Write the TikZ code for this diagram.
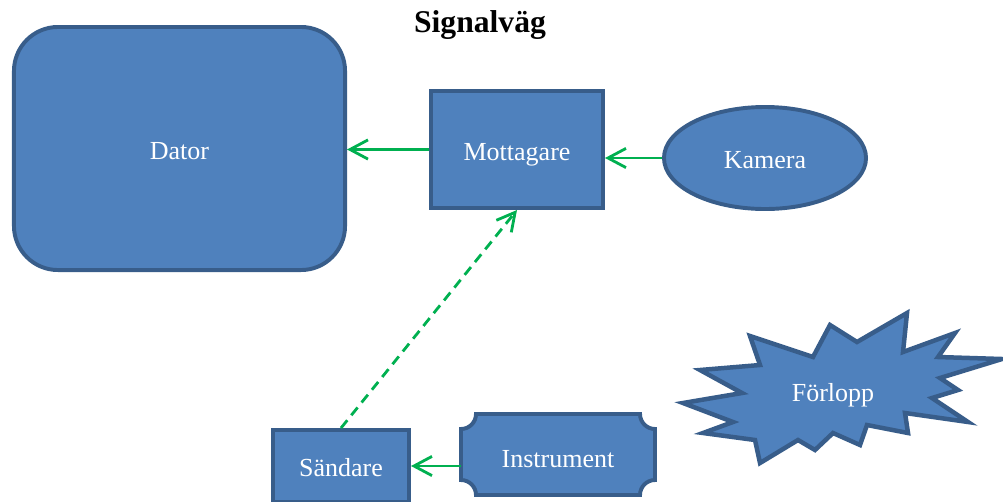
\documentclass[tikz,border=0pt]{standalone}
\usepackage{fontspec}
\setmainfont{Liberation Serif}
\usetikzlibrary{arrows.meta,shapes.geometric}
\definecolor{boxfill}{HTML}{4F81BD}
\definecolor{boxline}{HTML}{385D8A}
\definecolor{sigline}{HTML}{00B050}
\begin{document}
\begin{tikzpicture}[x=0.025cm,y=-0.025cm,
        box/.style={draw=boxline,fill=boxfill,line width=2.8pt,text=white,
            font=\fontsize{18.5}{20}\selectfont,inner sep=0pt,text height=0.53cm,text depth=0pt},
        boxtext/.style={text=white,font=\fontsize{18.5}{20}\selectfont,inner sep=0pt,
            text height=0.53cm,text depth=0pt},
        signal/.style={draw=sigline,line width=2pt,
            -{Straight Barb[length=4.5mm,width=4.8mm,line width=2pt]}}]
        \useasboundingbox (0,0) rectangle (1003,501);
        \node (title) at (480,25) {\fontsize{22.5}{24}\selectfont\bfseries Signalväg};
        % boxes
        \node[box,rounded corners=1.1cm,minimum width=8.275cm,minimum height=6.075cm] (dat) at (179.5,148.5) {Dator};
        \node[box,minimum width=4.3cm,minimum height=2.925cm] (mot) at (517,149.5) {Mottagare};
        \node[box,ellipse,minimum width=5.05cm,minimum height=2.55cm] (kam) at (765,158) {};
        \node[boxtext] at (kam.center) {Kamera};
        \node[box,minimum width=3.4cm,minimum height=1.8cm] (snd) at (341,466) {Sändare};
        % plaque
        \draw[box] (476,414) -- (640,414) arc (180:90:15) -- (655,480) arc (270:180:15)
            -- (476,495) arc (0:-90:15) -- (461,429) arc (90:0:15) -- cycle;
        \node[boxtext,minimum width=4.85cm,minimum height=2.025cm] (ins) at (558,457) {Instrument};
        % starburst
        \draw[box,line width=3.2pt] (750,336) -- (813,357) -- (830,325) -- (857,342) -- (907,313)
            -- (903,352) -- (955,333) -- (938,357) -- (1002,359) -- (940,378) -- (958,390)
            -- (932,398) -- (968,422) -- (905,413) -- (908,433) -- (867,425) -- (860,445)
            -- (833,433) -- (815,450) -- (798,440) -- (760,463) -- (755,440) -- (703,433)
            -- (733,422) -- (683,403) -- (742,393) -- (700,370) -- (760,365) -- cycle;
        \node[boxtext] (frl) at (833,391) {Förlopp};
        % signals
        \draw[signal] (mot.west) -- (mot.west -| dat.east);
        \draw[signal] (kam.west) -- (kam.west -| mot.east);
        \draw[signal] (ins.west |- snd.east) -- (snd.east);
        \draw[signal,dash pattern=on 2.5mm off 1.6mm] (snd.north) -- (mot.south);
    \end{tikzpicture}
\end{document}
